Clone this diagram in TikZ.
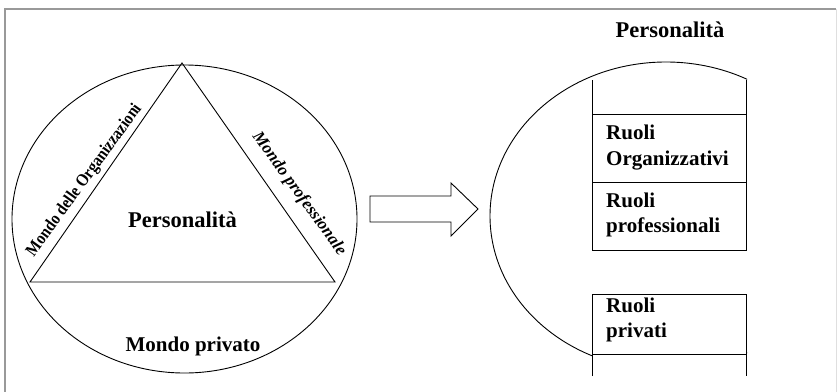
\documentclass[tikz,border=0pt]{standalone}
\usepackage{fontspec}
\setmainfont{Liberation Serif}
\usetikzlibrary{positioning}

\begin{document}
\begin{tikzpicture}[x=1pt,y=-1pt,% coordinates read like the pixels of the figure
      every node/.style={inner sep=0pt},
      linea/.style={draw=black,line width=0.9pt},
      titolo/.style={font=\bfseries\fontsize{22.5}{26}\selectfont},
      ruolo/.style={anchor=base west,font=\bfseries\fontsize{21}{25}\selectfont}
    ]
    \clip (0,0) rectangle (837,391);
    % frame
    \draw[gray!80,line width=1.4pt] (836,9) -- (5,9) -- (5,395);
    \draw[gray!25,line width=1pt] (836,9) -- (836,395);

    % left: the three worlds
    \draw[linea] (184.5,219) ellipse [x radius=172.5,y radius=154];
    \coordinate (apice) at (182,63);
    \coordinate (bs) at (30,282);
    \coordinate (bd) at (335,282);
    \draw[linea] (apice) -- (bs) -- (bd) -- cycle;
    \node[rotate=54,xscale=0.87,font=\bfseries\fontsize{17.5}{20}\selectfont]
      (org) at (84.5,180.5) {Mondo delle Organizzazioni};
    \node[rotate=-54,font=\bfseries\itshape\fontsize{17}{20}\selectfont]
      (prof) at (299,194) {Mondo professionale};
    \node[titolo,anchor=base] (pers) at (182.5,227) {Personalità};
    \node[font=\bfseries\fontsize{21}{25}\selectfont,anchor=base]
      (priv) at (193,351) {Mondo privato};

    % block arrow
    \draw[linea] (370,196) -- (451,196) -- (451,183) -- (478,209)
      -- (451,236) -- (451,222) -- (370,222) -- cycle;

    % right: the roles
    \node[titolo,anchor=base] (pers2) at (670,37) {Personalità};
    \begin{scope}
      \clip (0,0) rectangle (747,391);
      \draw[linea] (666,216) ellipse [x radius=176,y radius=154];
    \end{scope}
    \fill[white] (592,80) rectangle (746,250);
    \fill[white] (592,294) rectangle (746,391);
    \draw[linea] (592,80) -- (592,250) -- (746,250) -- (746,80);
    \draw[linea] (592,114) -- (746,114);
    \draw[linea] (592,182) -- (746,182);
    \draw[linea] (592,376) -- (592,294) -- (746,294) -- (746,376);
    \draw[linea] (592,354) -- (746,354);
    \node[ruolo] (r1) at (606,139) {Ruoli};
    \node[ruolo] (r1b) at (606,165) {Organizzativi};
    \node[ruolo] (r2) at (606,207) {Ruoli};
    \node[ruolo] (r2b) at (606,232) {professionali};
    \node[ruolo] (r3) at (606,312) {Ruoli};
    \node[ruolo] (r3b) at (606,337) {privati};
  \end{tikzpicture}
\end{document}
